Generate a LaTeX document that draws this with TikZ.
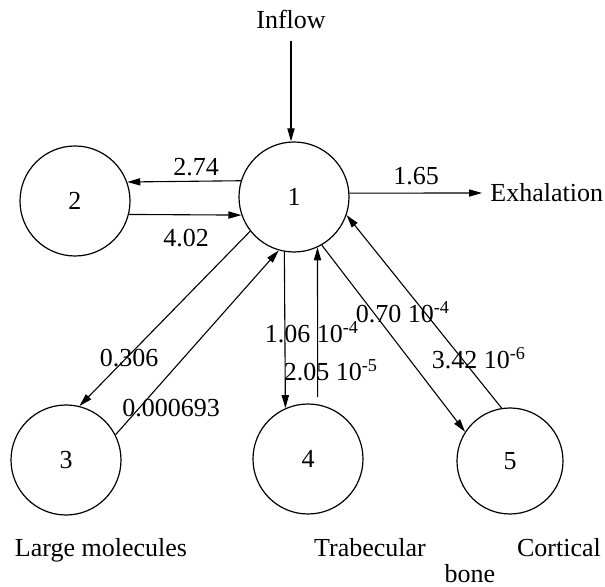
\documentclass[tikz,border=0pt]{standalone}
\usepackage{fontspec}
\setmainfont{Liberation Serif}
\usepackage{tikz}
\usetikzlibrary{arrows.meta, calc}
\tikzset{
  compnode/.style={
    circle, draw=black, line width=0.6pt,
    minimum size=55pt, inner sep=0pt,
    font=\fontsize{13}{15}\selectfont
  },
  ratelabel/.style={
    inner sep=0pt, font=\fontsize{13}{15}\selectfont
  },
  namelabel/.style={
    inner sep=0pt, font=\fontsize{13}{15}\selectfont
  },
  flowarrow/.style={
    -{Triangle[length=6.5pt, width=3.6pt]}, line width=0.55pt, color=black
  },
}
\begin{document}
\begin{tikzpicture}[x=0.5pt, y=-0.5pt]
  \useasboundingbox (0,0) rectangle (605,587);
  % compartments
  \node[compnode] (c1) at (294,197) {1};
  \node[compnode] (c2) at (75,201)  {2};
  \node[compnode] (c3) at (66,460)  {3};
  \node[compnode] (c4) at (308,459) {4};
  \node[compnode, minimum size=53pt] (c5) at (510,461) {5};

  % names
  \node[namelabel] (inflow) at (291,19) {Inflow};
  \node[namelabel, anchor=west, inner sep=4pt] (exhal) at (482,193) {Exhalation};
  \node[namelabel] (large) at (101,550) {Large molecules};
  \node[namelabel] (trab)  at (370,548) {Trabecular};
  \node[namelabel] (cort)  at (559,548) {Cortical};
  \node[namelabel] (bone)  at (470,574) {bone};

  % flows
  \draw[flowarrow, shorten <=6pt] (inflow.south) -- (inflow.south |- c1.north);
  \draw[flowarrow] (c1.4) -- (exhal.west);
  \draw[flowarrow] (c1.163) -- (c2.20);
  \draw[flowarrow] (c2.-14) -- (c1.199);
  \draw[flowarrow] (c1.218) -- (c3.76);
  \draw[flowarrow] (c3.27) -- (c1.254);
  \draw[flowarrow] (c1.260) -- (c4.114);
  \draw[flowarrow, shorten <=3.5pt] (c4.80) -- (c1.-65);
  \draw[flowarrow] (c1.-60) -- (c5.147);
  \draw[flowarrow] (c5.99) -- (c1.-19);

  % rates
  \node[ratelabel] (r12) at (196,167) {2.74};
  \node[ratelabel] (r21) at (186,238) {4.02};
  \node[ratelabel] (r1x) at (416,176) {1.65};
  \node[ratelabel] (r13) at (129,358) {0.306};
  \node[ratelabel] (r31) at (171,408) {0.000693};
  \node[ratelabel] (r14) at (312,332) {1.06 10\textsuperscript{-4}};
  \node[ratelabel] (r41) at (331,370) {2.05 10\textsuperscript{-5}};
  \node[ratelabel] (r15) at (403,312) {0.70 10\textsuperscript{-4}};
  \node[ratelabel] (r51) at (479,358) {3.42 10\textsuperscript{-6}};
\end{tikzpicture}
\end{document}
